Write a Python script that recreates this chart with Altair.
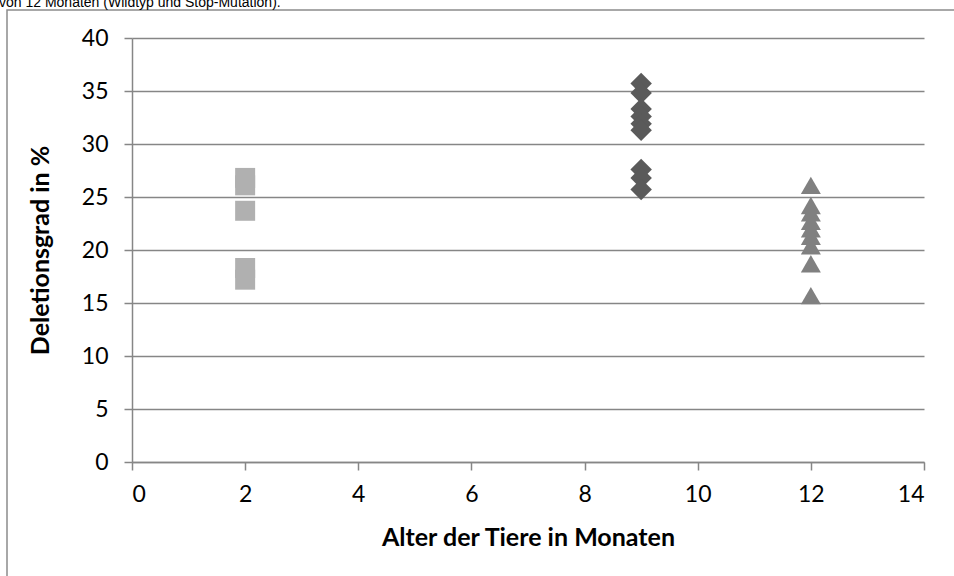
import altair as alt
import pandas as pd

# Deletion level (%) per animal, grouped by age in months
age_2 = [26.8, 26.1, 23.7, 18.3, 17.2]
age_9 = [35.7, 34.8, 33.3, 32.6, 31.9, 31.3, 27.6, 26.8, 25.7]
age_12 = [26.1, 24.2, 23.5, 22.7, 22.0, 21.3, 20.4, 18.7, 15.7]

x_ticks = [0, 2, 4, 6, 8, 10, 12, 14]
y_ticks = [0, 5, 10, 15, 20, 25, 30, 35, 40]

caption = "von 12 Monaten (Wildtyp und Stop-Mutation)."

groups = [
    (2, age_2, "2 Monate"),
    (9, age_9, "9 Monate"),
    (12, age_12, "12 Monate"),
]
rows = []
for age, vals, name in groups:
    for v in vals:
        rows.append({"alter": age, "deletion": v, "gruppe": name})
df = pd.DataFrame(rows)

W, H = 792, 424

x_enc = alt.X(
    "alter:Q",
    scale=alt.Scale(domain=[0, 14], nice=False, zero=False),
    axis=alt.Axis(
        values=x_ticks, format="d", title="Alter der Tiere in Monaten", grid=False,
        tickSize=8, labelPadding=13, titleX=W / 2, titleY=75,
        titleBaseline="middle", titleAlign="center",
    ),
)
y_enc = alt.Y(
    "deletion:Q",
    scale=alt.Scale(domain=[0, 40], nice=False),
    axis=alt.Axis(
        values=y_ticks, format="d", title="Deletionsgrad in %", grid=True,
        tickSize=8, labelPadding=16, titleX=-92, titleY=H / 2,
        titleAngle=270, titleBaseline="middle", titleAlign="center",
    ),
)

base = alt.Chart(df)

squares = base.transform_filter(alt.datum.gruppe == "2 Monate").mark_point(
    shape="square", filled=True, size=400, color="#b0b0b0", opacity=1
).encode(x=x_enc, y=y_enc)

diamonds = base.transform_filter(alt.datum.gruppe == "9 Monate").mark_point(
    shape="diamond", filled=True, size=460, color="#5a5a5a", opacity=1
).encode(x="alter:Q", y="deletion:Q")

triangles = base.transform_filter(alt.datum.gruppe == "12 Monate").mark_point(
    shape="triangle-up", filled=True, size=400, color="#808080", opacity=1
).encode(x="alter:Q", y="deletion:Q")

frame = alt.Chart(pd.DataFrame({"k": [0]})).mark_rect(
    filled=False, stroke="#8c8c8c", strokeWidth=1.5, fill=None
).encode(
    x=alt.value(-125), x2=alt.value(900), y=alt.value(-28), y2=alt.value(600)
)

cap = alt.Chart(pd.DataFrame({"t": [caption]})).mark_text(
    align="left", baseline="alphabetic", font="Liberation Sans",
    fontSize=14, color="#000000"
).encode(x=alt.value(-133), y=alt.value(-31), text="t:N")

chart = alt.layer(frame, cap, squares, diamonds, triangles).properties(
    width=W, height=H,
    padding={"left": 132, "top": 38, "right": 30, "bottom": 114},
    autosize=alt.AutoSizeParams(type="none"),
    background="white",
).configure_view(stroke=None).configure_axis(
    labelFont="Lato", labelFontSize=23, labelColor="#000000",
    titleFont="Lato", titleFontSize=25, titleFontWeight="bold", titleColor="#000000",
    domainColor="#868686", domainWidth=1.5, tickColor="#868686", tickWidth=1.5,
    gridColor="#868686", gridWidth=1.5, gridOpacity=1,
).configure_axisY(domain=True)

chart.save("out.html", embed_options={"renderer": "svg", "actions": False})
